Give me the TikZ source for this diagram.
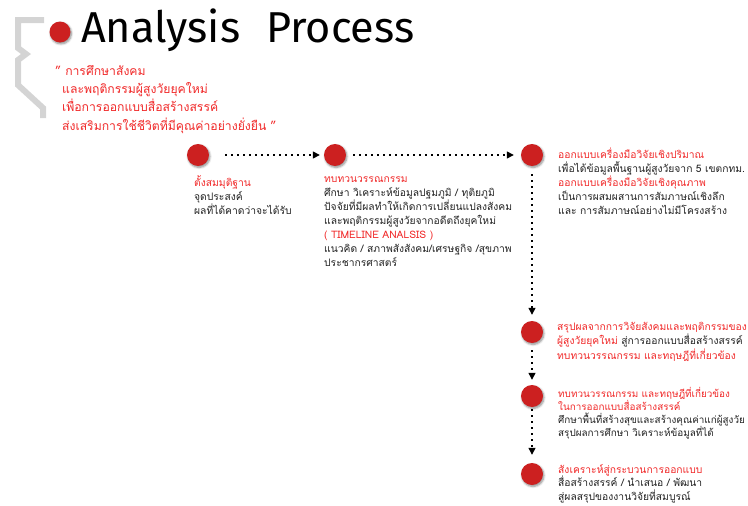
\documentclass[tikz,border=0pt]{standalone}
\usepackage{fontspec}
\usepackage{graphicx}
\setmainfont[Script=Thai]{Loma}
\newfontfamily\titlefont{Fira Sans}
\usetikzlibrary{arrows.meta,shadows.blur}
\definecolor{accent}{HTML}{F02828}
\definecolor{dotred}{HTML}{CC2020}
\definecolor{ink}{HTML}{222222}
\definecolor{bracketgray}{HTML}{D4D4D4}
\tikzset{
  stepdot/.style={circle, fill=dotred, minimum size=22pt, inner sep=0pt,
    blur shadow={shadow xshift=1pt, shadow yshift=-1.5pt, shadow blur steps=6,
      shadow blur radius=2pt, shadow opacity=45}},
  flow/.style={line width=1.3pt, dash pattern=on 1.3pt off 4.7pt,
    -{Triangle[length=7pt,width=7pt]}},
  body/.style={anchor=north west, inner sep=0pt, align=left, text=ink,
    font=\fontsize{10.3}{14}\selectfont},
  tight/.style={font=\fontsize{10.3}{13}\selectfont},
}
\begin{document}
\begin{tikzpicture}[x=1pt,y=-1pt]
  \useasboundingbox (0,0) rectangle (748,506);

  % grey side bracket
  \draw[bracketgray, line width=6pt, line join=miter]
    (44,20) -- (18,20) -- (18,48) -- (26,54) -- (18,60) -- (18,85)
    -- (43,108) -- (43,118);

  % heading
  \node[stepdot, minimum size=21pt] (hdot) at (60,32) {};
  \node[anchor=base west, inner sep=0pt] (heading) at (81,42)
    {\resizebox{333pt}{!}{\titlefont Analysis\hspace{0.6em}Process}};

  % motto
  \node[body, text=accent, font=\fontsize{12.2}{18.3}\selectfont] (motto) at (55,65)
    {" การศึกษาสังคม\\
     \hspace{7pt}และพฤติกรรมผู้สูงวัยยุคใหม่\\
     \hspace{7pt}เพื่อการออกแบบสื่อสร้างสรรค์\\
     \hspace{7pt}ส่งเสริมการใช้ชีวิตที่มีคุณค่าอย่างยั่งยืน "};

  % process steps
  \node[stepdot] (s1) at (198,155) {};
  \node[stepdot] (s2) at (335,155) {};
  \node[stepdot] (s3) at (532,155) {};
  \node[stepdot] (s4) at (532,332) {};
  \node[stepdot] (s5) at (532,396) {};
  \node[stepdot] (s6) at (532,474) {};

  \draw[flow, shorten <=16pt, shorten >=4pt] (s1) -- (s2);
  \draw[flow, shorten <=7pt, shorten >=7pt] (s2) -- (s3);
  \draw[flow, shorten <=8pt, shorten >=6pt] (s3) -- (s4);
  \draw[flow, shorten <=7pt, shorten >=5pt] (s4) -- (s5);
  \draw[flow, shorten <=2pt, shorten >=8pt] (s5) -- (s6);

  \node[body] (t1) at (194,175)
    {{\color{accent}ตั้งสมมุติฐาน}\\
     จุดประสงค์\\
     ผลที่ได้คาดว่าจะได้รับ};

  \node[body] (t2) at (324,177)
    {{\color{accent}ทบทวนวรรณกรรม}\\
     ศึกษา วิเคราะห์ข้อมูลปฐมภูมิ / ทุติยภูมิ\\
     ปัจจัยที่มีผลทำให้เกิดการเปลี่ยนแปลงสังคม\\
     และพฤติกรรมผู้สูงวัยจากอดีตถึงยุคใหม่\\
     {\color{accent}( TIMELINE ANALSIS )}\\
     แนวคิด / สภาพสังสังคม/เศรษฐกิจ /สุขภาพ\\
     ประชากรศาสตร์};

  \node[body] (t3) at (558,148)
    {{\color{accent}ออกแบบเครื่องมือวิจัยเชิงปริมาณ}\\
     เพื่อได้ข้อมูลพื้นฐานผู้สูงวัยจาก 5 เขตกทม.\\
     {\color{accent}ออกแบบเครื่องมือวิจัยเชิงคุณภาพ}\\
     เป็นการผสมผสานการสัมภาษณ์เชิงลึก\\
     และ การสัมภาษณ์อย่างไม่มีโครงสร้าง};

  \node[body, tight, text=accent] (t4) at (557,322)
    {สรุปผลจากการวิจัยสังคมและพฤติกรรมของ\\
     ผู้สูงวัยยุคใหม่ {\color{ink}สู่การออกแบบสื่อสร้างสรรค์}\\
     ทบทวนวรรณกรรม และทฤษฎีที่เกี่ยวข้อง};

  \node[body, font=\fontsize{9.9}{13}\selectfont] (t5) at (558,387)
    {{\color{accent}ทบทวนวรรณกรรม และทฤษฎีที่เกี่ยวข้อง}\\
     {\color{accent}ในการออกแบบสื่อสร้างสรรค์}\\
     ศึกษาพื้นที่สร้างสุขและสร้างคุณค่าแก่ผู้สูงวัย\\
     สรุปผลการศึกษา วิเคราะห์ข้อมูลที่ได้};

  \node[body, font=\fontsize{10.3}{13.5}\selectfont] (t6) at (558,464)
    {{\color{accent}สังเคราะห์สู่กระบวนการออกแบบ}\\
     สื่อสร้างสรรค์ / นำเสนอ /  พัฒนา\\
     สู่ผลสรุปของงานวิจัยที่สมบูรณ์};
\end{tikzpicture}
\end{document}
